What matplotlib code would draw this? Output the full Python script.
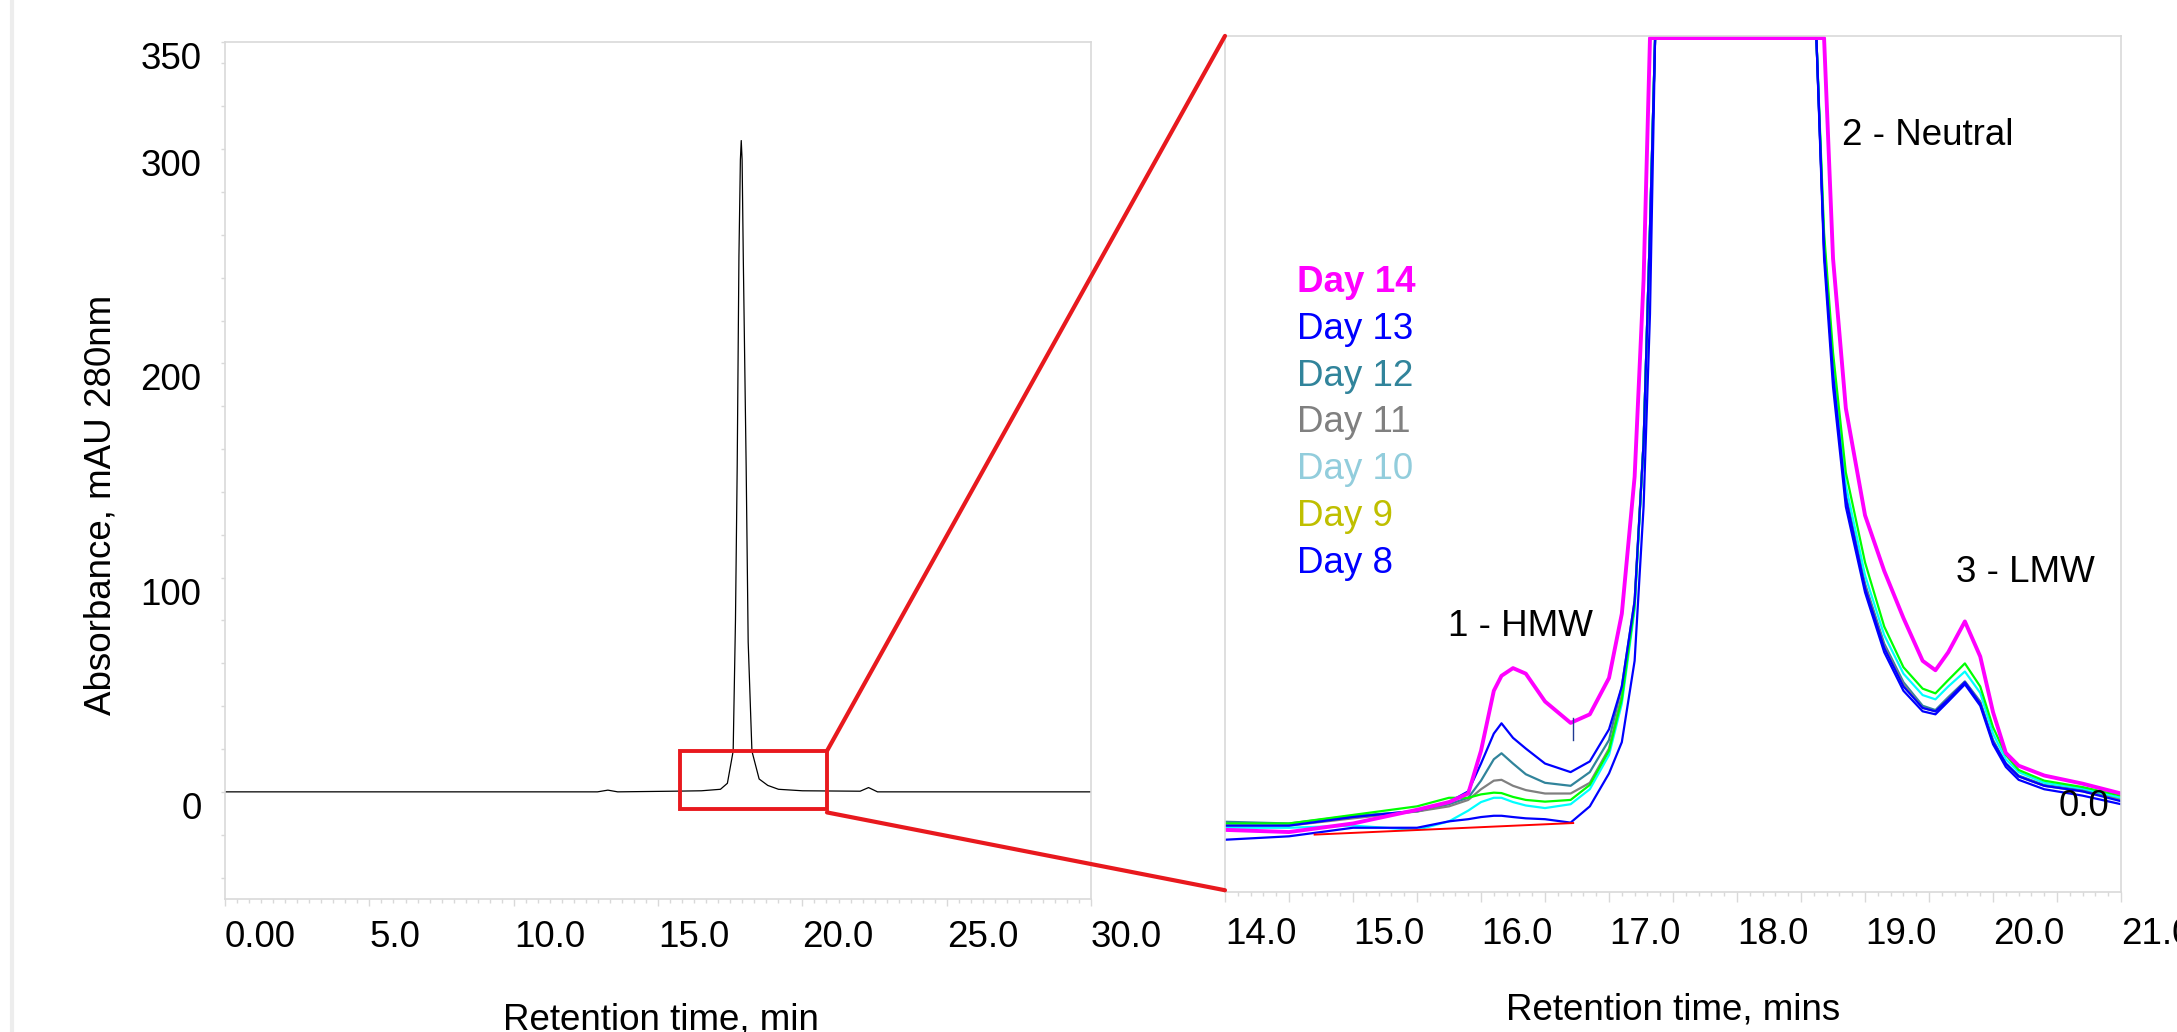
import numpy as np
import matplotlib

matplotlib.use("Agg")
import matplotlib.pyplot as plt
from matplotlib.lines import Line2D
from matplotlib.patches import ConnectionPatch, Rectangle
from matplotlib.ticker import MultipleLocator

plt.rcParams["font.family"] = ["Liberation Sans", "DejaVu Sans"]

# ------------------------------------------------------------
# Full chromatogram (left panel)
# ------------------------------------------------------------
full_rt = [0.0, 12.9, 13.26, 13.6, 15.5, 16.5, 17.16, 17.4, 17.6, 17.68,
           17.74, 17.8, 17.85, 17.88, 17.91, 17.95, 18.05, 18.12, 18.25,
           18.5, 18.8, 19.17, 20.0, 22.0, 22.29, 22.6, 30.0]
full_abs = [0.0, 0.0, 0.8, 0.0, 0.3, 0.5, 1.2, 4.0, 19.0, 80.0,
            152.0, 250.0, 295.0, 304.0, 295.0, 250.0, 152.0, 70.0, 19.0,
            6.0, 3.0, 1.2, 0.5, 0.3, 2.0, 0.0, 0.0]

full_xticks = [0, 5, 10, 15, 20, 25, 30]
full_xlabels = ["0.00", "5.0", "10.0", "15.0", "20.0", "25.0", "30.0"]
full_yticks = [0, 100, 200, 300, 350]

# ------------------------------------------------------------
# Zoomed overlay (right panel), one shared retention time grid
# ------------------------------------------------------------
zoom_rt = [14.0, 14.5, 15.0, 15.5, 15.75, 15.9, 16.0, 16.1, 16.16, 16.25,
           16.35, 16.5, 16.7, 16.85, 17.0, 17.1, 17.2, 17.27, 17.32, 17.36,
           18.62, 18.68, 18.75, 18.85, 19.0, 19.15, 19.3, 19.45, 19.55, 19.65,
           19.78, 19.9, 20.0, 20.1, 20.2, 20.4, 20.7, 21.0]

day14 = [-1.05, -1.1, -0.9, -0.58, -0.4, -0.2, 0.8, 2.2, 2.55, 2.73,
         2.6, 1.95, 1.45, 1.65, 2.5, 4.0, 7.2, 11.8, 17.45, 17.45,
         17.45, 17.45, 12.3, 8.8, 6.3, 5.0, 3.9, 2.9, 2.68, 3.1,
         3.82, 3.0, 1.7, 0.75, 0.45, 0.22, 0.03, -0.2]
day13 = [-0.95, -0.95, -0.75, -0.6, -0.4, -0.15, 0.5, 1.2, 1.44, 1.1,
         0.85, 0.5, 0.3, 0.55, 1.3, 2.3, 4.3, 8.0, 13.0, 17.45,
         17.45, 12.5, 9.6, 6.7, 4.6, 3.2, 2.3, 1.8, 1.72, 2.0,
         2.4, 1.9, 1.0, 0.5, 0.2, -0.02, -0.15, -0.38]
day12 = [-0.86, -0.9, -0.72, -0.62, -0.45, -0.3, 0.1, 0.6, 0.74, 0.5,
         0.25, 0.05, -0.02, 0.3, 1.05, 2.3, 4.3, 8.0, 13.0, 17.45,
         17.45, 12.6, 9.7, 6.8, 4.7, 3.3, 2.4, 1.85, 1.75, 2.05,
         2.42, 1.95, 1.05, 0.5, 0.22, 0.0, -0.12, -0.32]
day11 = [-0.95, -0.95, -0.78, -0.62, -0.5, -0.35, -0.1, 0.1, 0.12, -0.02,
         -0.12, -0.2, -0.2, 0.05, 0.85, 2.1, 4.2, 8.0, 13.0, 17.45,
         17.45, 12.5, 9.6, 6.7, 4.65, 3.25, 2.35, 1.8, 1.72, 2.02,
         2.4, 1.92, 1.0, 0.48, 0.2, -0.02, -0.15, -0.35]
day10 = [-1.0, -1.0, -0.95, -1.05, -0.85, -0.6, -0.4, -0.3, -0.3, -0.4,
         -0.48, -0.54, -0.45, -0.1, 0.7, 1.9, 4.1, 8.0, 13.0, 17.45,
         17.45, 12.7, 9.9, 7.0, 4.9, 3.5, 2.6, 2.1, 2.0, 2.3,
         2.65, 2.15, 1.2, 0.6, 0.3, 0.05, -0.08, -0.3]
day9 = [-0.9, -0.9, -0.7, -0.5, -0.3, -0.3, -0.22, -0.18, -0.19, -0.28,
        -0.35, -0.39, -0.35, 0.0, 0.8, 2.0, 4.2, 8.0, 13.0, 17.45,
        17.45, 12.9, 10.1, 7.3, 5.2, 3.7, 2.75, 2.25, 2.14, 2.45,
        2.84, 2.3, 1.35, 0.7, 0.35, 0.1, -0.05, -0.25]
day8 = [-1.28, -1.2, -1.0, -1.0, -0.85, -0.8, -0.75, -0.72, -0.72, -0.75,
        -0.78, -0.8, -0.88, -0.5, 0.27, 1.0, 2.9, 6.5, 11.0, 17.45,
        17.45, 12.3, 9.3, 6.5, 4.5, 3.1, 2.2, 1.72, 1.65, 1.95,
        2.35, 1.85, 0.95, 0.42, 0.12, -0.1, -0.25, -0.45]

# drawing order: back to front
series_names = ["Day 12", "Day 11", "Day 10", "Day 9", "Day 8", "Day 13", "Day 14"]
series_values = [day12, day11, day10, day9, day8, day13, day14]
series_colors = ["#31849B", "#808080", "#00FFFF", "#00FF00", "#0000FF", "#0000FF", "#FF00FF"]
series_widths = [1.6, 1.6, 1.6, 1.6, 1.6, 1.6, 2.8]

# legend text as shown (top to bottom)
legend_labels = ["Day 14", "Day 13", "Day 12", "Day 11", "Day 10", "Day 9", "Day 8"]
legend_colors = ["#FF00FF", "#0000FF", "#31849B", "#808080", "#92CDDC", "#BFBF00", "#0000FF"]

# HMW integration baseline
hmw_base_rt = [14.70, 16.72]
hmw_base_abs = [-1.16, -0.89]

zoom_xticks = [14.0, 14.5, 15.0, 15.5, 16.0, 16.5, 17.0, 17.5, 18.0, 18.5,
               19.0, 19.5, 20.0, 20.5, 21.0]
zoom_xlabels = ["14.0", "", "15.0", "", "16.0", "", "17.0", "", "18.0", "",
                "19.0", "", "20.0", "", "21.0"]

SPINE = "#D9D9D9"
RED = "#E8191E"
FS = 26.5


def _style_axes(ax):
    for side in ["left", "right", "top", "bottom"]:
        ax.spines[side].set_color(SPINE)
        ax.spines[side].set_linewidth(1.2)
    ax.tick_params(which="both", colors=SPINE, labelcolor="black",
                   labelsize=FS, width=1.0)


def plot_chromatograms(output_path="out.png"):
    fig = plt.figure(figsize=(21.77, 10.32), dpi=100)

    # ---------------- left: full run ----------------
    ax1 = fig.add_axes([0.1034, 0.1289, 0.3978, 0.8304])
    ax1.plot(full_rt, full_abs, color="black", lw=0.9)
    ax1.set_xlim(0, 30)
    ax1.set_ylim(-50, 350)
    _style_axes(ax1)

    ax1.set_xticks(full_xticks, full_xlabels)
    ax1.xaxis.set_minor_locator(MultipleLocator(5 / 12))
    ax1.tick_params(axis="x", which="major", length=5, pad=10)
    ax1.tick_params(axis="x", which="minor", length=3)
    for label in ax1.get_xticklabels():
        label.set_horizontalalignment("left")

    ax1.set_yticks(full_yticks, [str(v) for v in full_yticks])
    ax1.yaxis.set_minor_locator(MultipleLocator(20))
    ax1.tick_params(axis="y", which="both", length=3, pad=14)
    for label in ax1.get_yticklabels():
        label.set_verticalalignment("top")

    box = Rectangle((15.77, -8.06), 5.08, 27.16, fill=False,
                    edgecolor=RED, lw=2.8, zorder=5)
    ax1.add_patch(box)

    # ---------------- right: zoomed overlay ----------------
    ax2 = fig.add_axes([0.5627, 0.1357, 0.4116, 0.8295])
    for name, values, color, lw in zip(series_names, series_values,
                                       series_colors, series_widths):
        ax2.plot(zoom_rt, values, color=color, lw=lw, label=name)
    ax2.plot(hmw_base_rt, hmw_base_abs, color="red", lw=1.4, zorder=6)
    ax2.plot([16.72, 16.72], [1.05, 1.56], color="#1F3A93", lw=1.0, zorder=7)

    ax2.set_xlim(14, 21)
    ax2.set_ylim(-2.5, 17.5)
    _style_axes(ax2)
    ax2.set_xticks(zoom_xticks, zoom_xlabels)
    ax2.xaxis.set_minor_locator(MultipleLocator(0.1))
    ax2.tick_params(axis="x", which="major", length=7, pad=11)
    ax2.tick_params(axis="x", which="minor", length=3)
    for label in ax2.get_xticklabels():
        label.set_horizontalalignment("left")
    ax2.set_yticks([])

    for i, (text, color) in enumerate(zip(legend_labels, legend_colors)):
        ax2.text(14.56, 11.73 - i * 1.091, text, color=color, fontsize=FS,
                 fontweight="bold" if i == 0 else "normal",
                 ha="left", va="center")

    ax2.text(16.31, 3.70, "1 - HMW", fontsize=FS, ha="center", va="center")
    ax2.text(18.82, 15.18, "2 - Neutral", fontsize=FS, ha="left", va="center")
    ax2.text(19.71, 4.96, "3 - LMW", fontsize=FS, ha="left", va="center")
    ax2.text(20.91, -0.51, "0.0", fontsize=FS, ha="right", va="center", zorder=8)

    # red zoom connectors
    for corner_a, corner_b in [((20.85, 19.1), (0.0, 1.0)),
                               ((20.85, -9.6), (0.0, 0.002))]:
        con = ConnectionPatch(xyA=corner_a, coordsA="data", axesA=ax1,
                              xyB=corner_b, coordsB="axes fraction", axesB=ax2,
                              color=RED, lw=3.0)
        fig.add_artist(con)

    # axis titles
    fig.text(661 / 2177, 1 - 1020 / 1032, "Retention time, min",
             fontsize=FS, ha="center", va="center")
    fig.text(1673.5 / 2177, 1 - 1010.5 / 1032, "Retention time, mins",
             fontsize=FS, ha="center", va="center")
    fig.text(101 / 2177, 1 - 505 / 1032, "Absorbance, mAU 280nm",
             fontsize=FS, rotation=90, ha="center", va="center")

    # faint frame line at the left edge
    fig.add_artist(Line2D([12 / 2177, 12 / 2177], [0, 1], color="#EDEDED",
                          lw=3, transform=fig.transFigure))

    fig.savefig(output_path, dpi=100)
    return fig


if __name__ == "__main__":
    plot_chromatograms()
